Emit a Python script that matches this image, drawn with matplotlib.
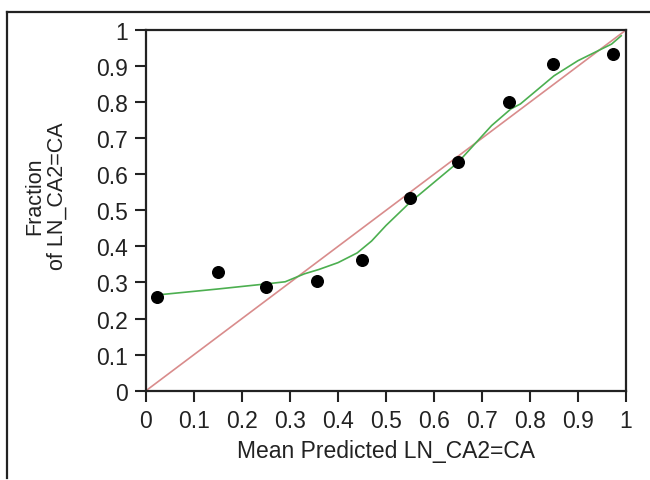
import matplotlib
matplotlib.use("Agg")
import matplotlib.pyplot as plt
from matplotlib.lines import Line2D

plt.rcParams['font.family'] = ['Liberation Sans', 'DejaVu Sans']

# Binned calibration points: mean predicted probability vs observed fraction
mean_predicted = [0.022, 0.149, 0.250, 0.356, 0.451, 0.550, 0.651, 0.756, 0.847, 0.972]
observed_fraction = [0.261, 0.328, 0.288, 0.305, 0.361, 0.533, 0.633, 0.800, 0.906, 0.933]

# Smoothed calibration curve
smooth_x = [0.02, 0.15, 0.25, 0.29, 0.33, 0.36, 0.40, 0.44, 0.47, 0.50, 0.55, 0.65,
            0.72, 0.76, 0.78, 0.85, 0.90, 0.97, 0.99]
smooth_y = [0.265, 0.282, 0.296, 0.302, 0.324, 0.336, 0.355, 0.382, 0.415, 0.458, 0.522, 0.633,
            0.735, 0.781, 0.795, 0.873, 0.915, 0.961, 0.984]

# Perfect calibration reference
diag = [0, 1]

ticks = [0, 0.1, 0.2, 0.3, 0.4, 0.5, 0.6, 0.7, 0.8, 0.9, 1]
tick_labels = ['0', '0.1', '0.2', '0.3', '0.4', '0.5', '0.6', '0.7', '0.8', '0.9', '1']

fig = plt.figure(figsize=(6.5, 4.81), dpi=100)
ax = fig.add_axes([146 / 650, 1 - 391.7 / 481, 480 / 650, 360.7 / 481])

ax.plot(diag, diag, color='#d98c8c', lw=1.2, zorder=2)
ax.plot(smooth_x, smooth_y, color='#4caf50', lw=1.2, zorder=3)
ax.scatter(mean_predicted, observed_fraction, s=70, color='black', zorder=4)

ax.set_xlim(0, 1)
ax.set_ylim(0, 1)
ax.set_xticks(ticks)
ax.set_xticklabels(tick_labels)
ax.set_yticks(ticks)
ax.set_yticklabels(tick_labels)
ax.tick_params(direction='out', length=8, width=1.5, labelsize=16.5,
               colors='#222222', pad=5)
for s in ax.spines.values():
    s.set_linewidth(1.6)
    s.set_color('#222222')

ax.set_xlabel('Mean Predicted LN_CA2=CA', fontsize=16.5, color='#222222', labelpad=5)
fig.text(46 / 650, 1 - 196 / 481, 'Fraction\nof LN_CA2=CA', rotation=90,
         ha='center', va='center', multialignment='center',
         fontsize=15.5, color='#222222', linespacing=1.1)

# Outer frame (top and left edges)
fig.add_artist(Line2D([7 / 650, 1], [1 - 13 / 481, 1 - 13 / 481],
                      transform=fig.transFigure, color='#222222', lw=1.6))
fig.add_artist(Line2D([7 / 650, 7 / 650], [1 - 13 / 481, 0.005],
                      transform=fig.transFigure, color='#222222', lw=1.6))

fig.savefig('out.png', dpi=100)
